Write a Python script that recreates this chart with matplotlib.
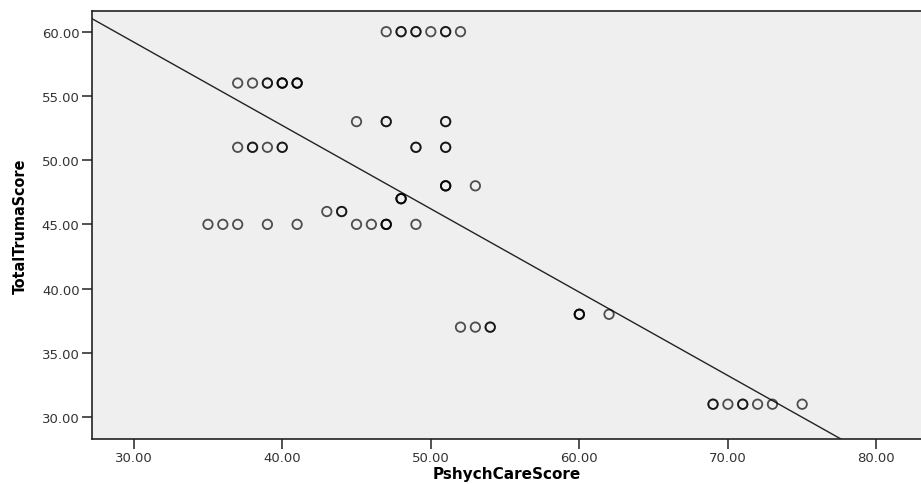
import numpy as np
import matplotlib.pyplot as plt
from matplotlib.ticker import FormatStrFormatter

# points; repeated pairs = overlapping (darker) circles
psych_care = [47, 48, 48, 49, 49, 50, 51, 51, 52,
              37, 38, 39, 39, 40, 40, 40, 41, 41, 41,
              45, 47, 47, 51, 51,
              37, 38, 38, 39, 40, 40, 49, 49, 51, 51,
              51, 51, 51, 53,
              48, 48, 48,
              43, 44, 44,
              35, 36, 37, 39, 41, 45, 46, 47, 47, 47, 49,
              60, 60, 60, 62,
              52, 53, 54, 54,
              69, 69, 70, 71, 71, 72, 73, 75]
trauma = [60] * 9 + [56] * 10 + [53] * 5 + [51] * 10 + [48] * 4 + [47] * 3 \
    + [46] * 3 + [45] * 11 + [38] * 4 + [37] * 4 + [31] * 8

# fit line as drawn in the picture
fit_intercept = 78.66
fit_slope = -0.649

x_ticks = [30, 40, 50, 60, 70, 80]
y_ticks = [30, 35, 40, 45, 50, 55, 60]

plt.rcParams['font.family'] = ['DejaVu Sans']

fig = plt.figure(figsize=(9.21, 4.85), dpi=100)
ax = fig.add_axes([0.1, 0.093, 0.9, 0.882])
ax.set_facecolor('#efefef')

ax.scatter(psych_care, trauma, s=46, facecolors='none',
           edgecolors=(0, 0, 0, 0.68), linewidths=1.3, zorder=3)

xs = np.array([20, 90])
ax.plot(xs, fit_intercept + fit_slope * xs, color='#222222', lw=1.0, zorder=2)

ax.set_xlim(27.2, 83)
ax.set_ylim(28.3, 61.6)
ax.set_xticks(x_ticks)
ax.set_yticks(y_ticks)
ax.xaxis.set_major_formatter(FormatStrFormatter('%.2f'))
ax.yaxis.set_major_formatter(FormatStrFormatter('%.2f'))
ax.tick_params(direction='out', length=7, width=1.2, color='#333333',
               labelsize=9.5, labelcolor='#333333', pad=2)

for side in ['left', 'bottom', 'top']:
    ax.spines[side].set_color('#222222')
    ax.spines[side].set_linewidth(1.2)
ax.spines['right'].set_visible(False)

ax.set_xlabel('PshychCareScore', fontsize=11, fontweight='bold', labelpad=1)
ax.set_ylabel('TotalTrumaScore', fontsize=11.5, fontweight='bold',
              fontstretch='condensed', labelpad=10)

fig.savefig('out.png', dpi=100)
